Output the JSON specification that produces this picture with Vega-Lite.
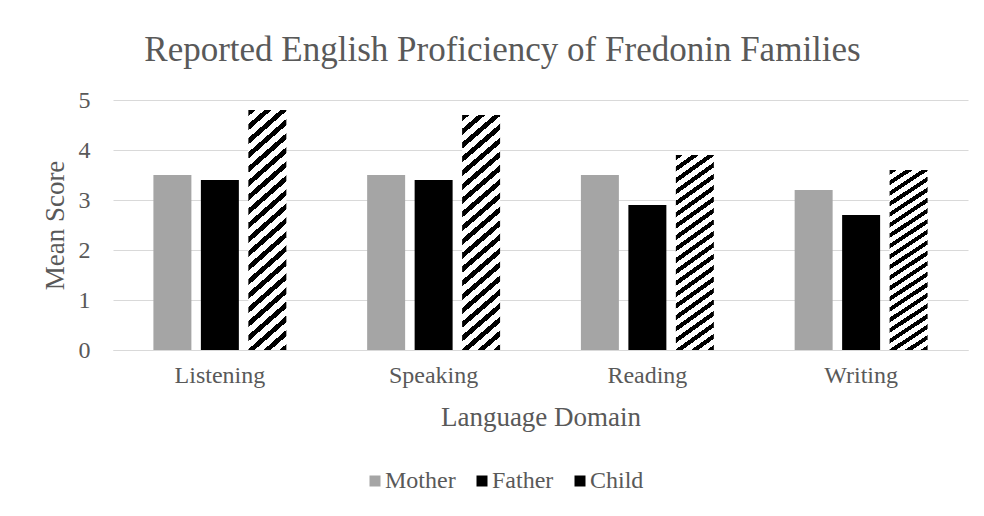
{
  "$schema": "https://vega.github.io/schema/vega-lite/v6.json",
  "width": 855,
  "height": 250,
  "autosize": {"type": "none"},
  "padding": {"left": 113, "top": 100, "right": 16, "bottom": 166},
  "background": "white",
  "title": {
    "text": "Reported English Proficiency of Fredonin Families",
    "anchor": "middle",
    "frame": "group",
    "dx": -38,
    "offset": 20,
    "font": "Liberation Serif",
    "fontSize": 35,
    "fontWeight": "normal",
    "color": "#595959"
  },
  "data": {
    "values": [
      {"domain": "Listening", "member": "Mother", "score": 3.5},
      {"domain": "Listening", "member": "Father", "score": 3.4},
      {"domain": "Listening", "member": "Child", "score": 4.8},
      {"domain": "Speaking", "member": "Mother", "score": 3.5},
      {"domain": "Speaking", "member": "Father", "score": 3.4},
      {"domain": "Speaking", "member": "Child", "score": 4.7},
      {"domain": "Reading", "member": "Mother", "score": 3.5},
      {"domain": "Reading", "member": "Father", "score": 2.9},
      {"domain": "Reading", "member": "Child", "score": 3.9},
      {"domain": "Writing", "member": "Mother", "score": 3.2},
      {"domain": "Writing", "member": "Father", "score": 2.7},
      {"domain": "Writing", "member": "Child", "score": 3.6}
    ]
  },
  "mark": {"type": "bar"},
  "encoding": {
    "x": {
      "field": "domain",
      "type": "nominal",
      "sort": ["Listening", "Speaking", "Reading", "Writing"],
      "scale": {"paddingInner": 0.378, "paddingOuter": 0.189},
      "axis": {
        "title": "Language Domain",
        "labelAngle": 0,
        "ticks": false,
        "labelPadding": 13,
        "titlePadding": 17,
        "domainColor": "#d9d9d9",
        "domainWidth": 1
      }
    },
    "xOffset": {
      "field": "member",
      "type": "nominal",
      "sort": ["Mother", "Father", "Child"],
      "scale": {"paddingInner": 0.2, "paddingOuter": 0}
    },
    "y": {
      "field": "score",
      "type": "quantitative",
      "scale": {"domain": [0, 5]},
      "axis": {
        "title": "Mean Score",
        "values": [0, 1, 2, 3, 4, 5],
        "ticks": false,
        "domain": false,
        "labelPadding": 23,
        "titlePadding": 9,
        "gridColor": "#d9d9d9",
        "gridWidth": 1
      }
    },
    "fill": {
      "field": "member",
      "type": "nominal",
      "sort": ["Mother", "Father", "Child"],
      "condition": {
        "test": "datum.member === 'Child'",
        "value": {
          "gradient": "linear",
          "x1": 0, "y1": 0, "x2": 0.16, "y2": 1.15,
          "stops": [
            {"offset": 0.0, "color": "#000"}, {"offset": 0.0225, "color": "#000"}, {"offset": 0.0225, "color": "#fff"}, {"offset": 0.05, "color": "#fff"},
            {"offset": 0.05, "color": "#000"}, {"offset": 0.0725, "color": "#000"}, {"offset": 0.0725, "color": "#fff"}, {"offset": 0.10, "color": "#fff"},
            {"offset": 0.10, "color": "#000"}, {"offset": 0.1225, "color": "#000"}, {"offset": 0.1225, "color": "#fff"}, {"offset": 0.15, "color": "#fff"},
            {"offset": 0.15, "color": "#000"}, {"offset": 0.1725, "color": "#000"}, {"offset": 0.1725, "color": "#fff"}, {"offset": 0.20, "color": "#fff"},
            {"offset": 0.20, "color": "#000"}, {"offset": 0.2225, "color": "#000"}, {"offset": 0.2225, "color": "#fff"}, {"offset": 0.25, "color": "#fff"},
            {"offset": 0.25, "color": "#000"}, {"offset": 0.2725, "color": "#000"}, {"offset": 0.2725, "color": "#fff"}, {"offset": 0.30, "color": "#fff"},
            {"offset": 0.30, "color": "#000"}, {"offset": 0.3225, "color": "#000"}, {"offset": 0.3225, "color": "#fff"}, {"offset": 0.35, "color": "#fff"},
            {"offset": 0.35, "color": "#000"}, {"offset": 0.3725, "color": "#000"}, {"offset": 0.3725, "color": "#fff"}, {"offset": 0.40, "color": "#fff"},
            {"offset": 0.40, "color": "#000"}, {"offset": 0.4225, "color": "#000"}, {"offset": 0.4225, "color": "#fff"}, {"offset": 0.45, "color": "#fff"},
            {"offset": 0.45, "color": "#000"}, {"offset": 0.4725, "color": "#000"}, {"offset": 0.4725, "color": "#fff"}, {"offset": 0.50, "color": "#fff"},
            {"offset": 0.50, "color": "#000"}, {"offset": 0.5225, "color": "#000"}, {"offset": 0.5225, "color": "#fff"}, {"offset": 0.55, "color": "#fff"},
            {"offset": 0.55, "color": "#000"}, {"offset": 0.5725, "color": "#000"}, {"offset": 0.5725, "color": "#fff"}, {"offset": 0.60, "color": "#fff"},
            {"offset": 0.60, "color": "#000"}, {"offset": 0.6225, "color": "#000"}, {"offset": 0.6225, "color": "#fff"}, {"offset": 0.65, "color": "#fff"},
            {"offset": 0.65, "color": "#000"}, {"offset": 0.6725, "color": "#000"}, {"offset": 0.6725, "color": "#fff"}, {"offset": 0.70, "color": "#fff"},
            {"offset": 0.70, "color": "#000"}, {"offset": 0.7225, "color": "#000"}, {"offset": 0.7225, "color": "#fff"}, {"offset": 0.75, "color": "#fff"},
            {"offset": 0.75, "color": "#000"}, {"offset": 0.7725, "color": "#000"}, {"offset": 0.7725, "color": "#fff"}, {"offset": 0.80, "color": "#fff"},
            {"offset": 0.80, "color": "#000"}, {"offset": 0.8225, "color": "#000"}, {"offset": 0.8225, "color": "#fff"}, {"offset": 0.85, "color": "#fff"},
            {"offset": 0.85, "color": "#000"}, {"offset": 0.8725, "color": "#000"}, {"offset": 0.8725, "color": "#fff"}, {"offset": 0.90, "color": "#fff"},
            {"offset": 0.90, "color": "#000"}, {"offset": 0.9225, "color": "#000"}, {"offset": 0.9225, "color": "#fff"}, {"offset": 0.95, "color": "#fff"},
            {"offset": 0.95, "color": "#000"}, {"offset": 0.9725, "color": "#000"}, {"offset": 0.9725, "color": "#fff"}, {"offset": 1.0, "color": "#fff"}
          ]
        }
      },
      "scale": {
        "domain": ["Mother", "Father", "Child"],
        "range": ["#a5a5a5", "#000000", "#000000"]
      },
      "legend": {
        "title": null,
        "orient": "none",
        "direction": "horizontal",
        "legendX": 250,
        "legendY": 369,
        "symbolType": "square",
        "symbolSize": 121,
        "symbolStrokeWidth": 0,
        "labelOffset": -2,
        "columnPadding": 14
      }
    }
  },
  "config": {
    "font": "Liberation Serif",
    "view": {"stroke": null},
    "axis": {
      "labelFont": "Liberation Serif",
      "titleFont": "Liberation Serif",
      "labelFontSize": 24,
      "titleFontSize": 27,
      "labelColor": "#595959",
      "titleColor": "#595959",
      "titleFontWeight": "normal"
    },
    "legend": {
      "labelFont": "Liberation Serif",
      "labelFontSize": 24,
      "labelColor": "#595959"
    }
  }
}
